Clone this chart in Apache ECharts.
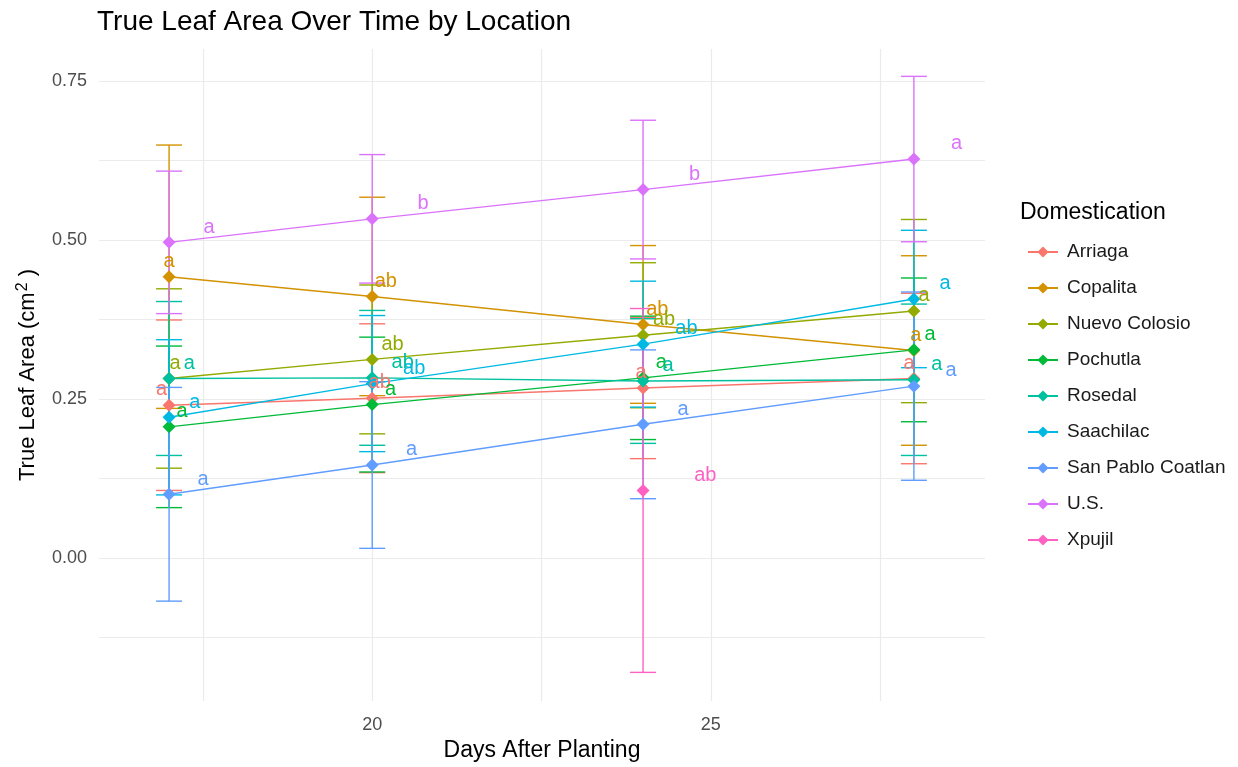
<!DOCTYPE html>
<html>
<head>
<meta charset="utf-8">
<script src="https://cdn.jsdelivr.net/npm/echarts@6/dist/echarts.min.js"></script>
<style>
  html, body { margin: 0; padding: 0; background: #ffffff; }
  #chart { width: 1238px; height: 767px; }
</style>
</head>
<body>
<div id="chart"></div>
<script>
// Sampling days (days after planting)
const days = [17, 20, 24, 28];

const locations = ['Arriaga', 'Copalita', 'Nuevo Colosio', 'Pochutla', 'Rosedal',
                   'Saachilac', 'San Pablo Coatlan', 'U.S.', 'Xpujil'];

// Mean true leaf area (cm²) on each sampling day
const arriagaMean   = [0.240, 0.251, 0.267, 0.282];
const copalitaMean  = [0.442, 0.411, 0.367, 0.326];
const nuevoMean     = [0.282, 0.312, 0.350, 0.388];
const pochutlaMean  = [0.206, 0.241, 0.283, 0.327];
const rosedalMean   = [0.282, 0.283, 0.278, 0.280];
const saachilacMean = [0.221, 0.274, 0.336, 0.407];
const sanPabloMean  = [0.100, 0.146, 0.210, 0.270];
const usMean        = [0.496, 0.533, 0.579, 0.627];
const xpujilMean    = [null, null, 0.106, null];

// Half-width of the error bars
const arriagaErr   = [0.134, 0.117, 0.111, 0.134];
const copalitaErr  = [0.207, 0.156, 0.124, 0.149];
const nuevoErr     = [0.141, 0.117, 0.114, 0.144];
const pochutlaErr  = [0.127, 0.106, 0.097, 0.113];
const rosedalErr   = [0.121, 0.106, 0.098, 0.119];
const saachilacErr = [0.122, 0.107, 0.099, 0.108];
const sanPabloErr  = [0.168, 0.131, 0.117, 0.148];
const usErr        = [0.112, 0.101, 0.109, 0.130];
const xpujilErr    = [null, null, 0.286, null];

// Significance group letters
const arriagaLetters   = ['a', 'ab', 'a', 'a'];
const copalitaLetters  = ['a', 'ab', 'ab', 'a'];
const nuevoLetters     = ['a', 'ab', 'ab', 'a'];
const pochutlaLetters  = ['a', 'a', 'a', 'a'];
const rosedalLetters   = ['a', 'ab', 'a', 'a'];
const saachilacLetters = ['a', 'ab', 'ab', 'a'];
const sanPabloLetters  = ['a', 'a', 'a', 'a'];
const usLetters        = ['a', 'b', 'b', 'a'];
const xpujilLetters    = [null, null, 'ab', null];

// Horizontal dodge of each letter, in days
const arriagaShift   = [-0.11, 0.11, -0.03, -0.07];
const copalitaShift  = [0.00, 0.20, 0.21, 0.03];
const nuevoShift     = [0.09, 0.30, 0.31, 0.15];
const pochutlaShift  = [0.19, 0.27, 0.27, 0.24];
const rosedalShift   = [0.30, 0.45, 0.37, 0.34];
const saachilacShift = [0.38, 0.62, 0.64, 0.46];
const sanPabloShift  = [0.50, 0.58, 0.59, 0.55];
const usShift        = [0.59, 0.75, 0.76, 0.63];
const xpujilShift    = [null, null, 0.92, null];

// Axis ticks and grid lines
const yTickLabels = [0, 0.25, 0.5, 0.75];
const yGridLines  = [-0.125, 0, 0.125, 0.25, 0.375, 0.5, 0.625, 0.75];
const xTickLabels = [20, 25];
const xGridLines  = [17.5, 20, 22.5, 25, 27.5];

const means   = [arriagaMean, copalitaMean, nuevoMean, pochutlaMean, rosedalMean,
                 saachilacMean, sanPabloMean, usMean, xpujilMean];
const errs    = [arriagaErr, copalitaErr, nuevoErr, pochutlaErr, rosedalErr,
                 saachilacErr, sanPabloErr, usErr, xpujilErr];
const letters = [arriagaLetters, copalitaLetters, nuevoLetters, pochutlaLetters, rosedalLetters,
                 saachilacLetters, sanPabloLetters, usLetters, xpujilLetters];
const shifts  = [arriagaShift, copalitaShift, nuevoShift, pochutlaShift, rosedalShift,
                 saachilacShift, sanPabloShift, usShift, xpujilShift];

const colors = ['#F8766D', '#D39200', '#93AA00', '#00BA38', '#00C19F',
                '#00B9E3', '#619CFF', '#DB72FB', '#FF61C3'];

const FONT = '"Liberation Sans", Arial, Helvetica, sans-serif';
const LETTER_RISE = 0.024;   // letters sit just above their point
const CAP = 13;              // error bar cap half-width (px)

const lineSeries = [];
const errorSeries = [];
const letterSeries = [];

locations.forEach((name, i) => {
  const color = colors[i];
  const pts = [];
  const bars = [];
  const tags = [];
  const tagText = [];
  days.forEach((d, j) => {
    const m = means[i][j];
    if (m == null) return;
    pts.push([d, m]);
    bars.push([d, m, m - errs[i][j], m + errs[i][j]]);
    if (letters[i][j]) {
      tags.push([d + shifts[i][j], m + LETTER_RISE]);
      tagText.push(letters[i][j]);
    }
  });

  lineSeries.push({
    type: 'line',
    name: name,
    data: pts,
    z: 3,
    symbol: 'diamond',
    symbolSize: 13,
    showSymbol: true,
    lineStyle: { color: color, width: 1.4 },
    itemStyle: { color: color },
    emphasis: { disabled: true },
    animation: false
  });

  errorSeries.push({
    type: 'custom',
    name: name,
    data: bars,
    z: 2,
    encode: { x: 0, y: [1, 2, 3] },
    silent: true,
    animation: false,
    renderItem: (params, api) => {
      const x = api.value(0);
      const lo = api.coord([x, api.value(2)]);
      const hi = api.coord([x, api.value(3)]);
      const style = { stroke: color, lineWidth: 1.4 };
      return {
        type: 'group',
        children: [
          { type: 'line', shape: { x1: lo[0], y1: lo[1], x2: hi[0], y2: hi[1] }, style: style },
          { type: 'line', shape: { x1: lo[0] - CAP, y1: lo[1], x2: lo[0] + CAP, y2: lo[1] }, style: style },
          { type: 'line', shape: { x1: hi[0] - CAP, y1: hi[1], x2: hi[0] + CAP, y2: hi[1] }, style: style }
        ]
      };
    }
  });

  letterSeries.push({
    type: 'custom',
    name: name,
    data: tags,
    z: 4,
    encode: { x: 0, y: 1 },
    silent: true,
    animation: false,
    renderItem: (params, api) => {
      const p = api.coord([api.value(0), api.value(1)]);
      return {
        type: 'text',
        x: p[0],
        y: p[1],
        style: {
          text: tagText[params.dataIndex],
          fill: color,
          font: '20px ' + FONT,
          align: 'center',
          verticalAlign: 'middle'
        }
      };
    }
  });
});

const chart = echarts.init(document.getElementById('chart'), null, { renderer: 'canvas' });

chart.setOption({
  backgroundColor: '#ffffff',
  animation: false,
  title: [
    {
      text: 'True Leaf Area Over Time by Location',
      left: 92,
      top: 3,
      textStyle: { fontFamily: FONT, fontSize: 28, fontWeight: 'normal', color: '#000000' }
    },
    {
      text: 'Domestication',
      left: 1015,
      top: 196,
      textStyle: { fontFamily: FONT, fontSize: 23, fontWeight: 'normal', color: '#000000' }
    }
  ],
  legend: {
    data: locations,
    orient: 'vertical',
    left: 1022,
    top: 237,
    itemWidth: 30,
    itemHeight: 14,
    itemGap: 16,
    selectedMode: false,
    textStyle: { fontFamily: FONT, fontSize: 19, color: '#1a1a1a', lineHeight: 20, padding: [0, 0, 0, 4] }
  },
  grid: { left: 99, right: 253, top: 49, bottom: 59, containLabel: false },
  xAxis: {
    type: 'value',
    min: 15.965,
    max: 29.05,
    name: 'Days After Planting',
    nameLocation: 'middle',
    nameGap: 38,
    nameTextStyle: { fontFamily: FONT, fontSize: 23, color: '#000000' },
    axisLine: { show: false },
    axisTick: { show: false, customValues: xGridLines },
    axisLabel: {
      customValues: xTickLabels,
      color: '#4D4D4D',
      fontFamily: FONT,
      fontSize: 18,
      margin: 15,
      formatter: v => String(v)
    },
    splitLine: { show: true, lineStyle: { color: '#EBEBEB', width: 1.2 } }
  },
  yAxis: {
    type: 'value',
    min: -0.225,
    max: 0.80,
    name: '{n|True Leaf Area (cm}{s|2}{n| )}',
    nameLocation: 'middle',
    nameGap: 58,
    nameRotate: 90,
    nameTextStyle: {
      rich: {
        n: { fontFamily: FONT, fontSize: 22, color: '#000000', lineHeight: 26 },
        s: { fontFamily: FONT, fontSize: 16, color: '#000000', verticalAlign: 'top', lineHeight: 26, padding: [0, 0, 10, 1] }
      }
    },
    axisLine: { show: false },
    axisTick: { show: false, customValues: yGridLines },
    axisLabel: {
      customValues: yTickLabels,
      color: '#4D4D4D',
      fontFamily: FONT,
      fontSize: 18,
      margin: 12,
      formatter: v => v.toFixed(2)
    },
    splitLine: { show: true, lineStyle: { color: '#EBEBEB', width: 1.2 } }
  },
  series: [].concat(lineSeries, errorSeries, letterSeries)
});
</script>
</body>
</html>
